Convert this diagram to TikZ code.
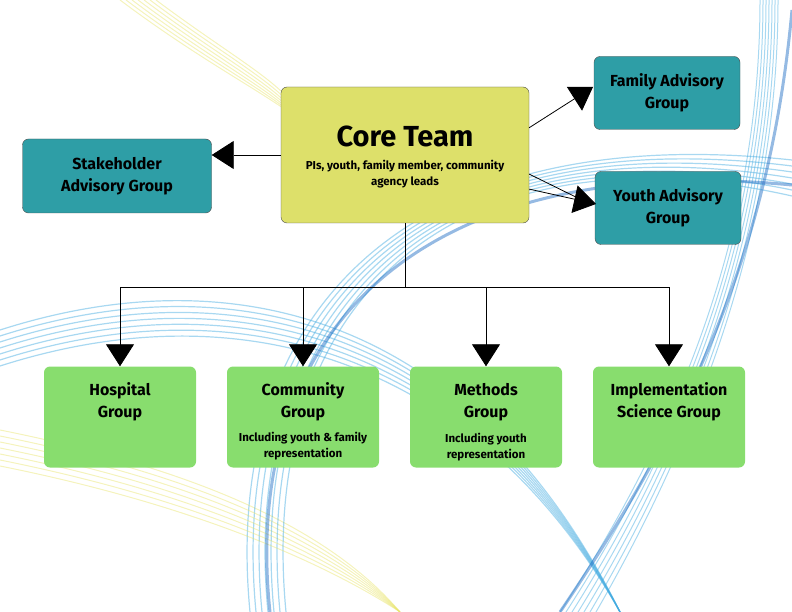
\documentclass[tikz,border=0pt]{standalone}
\usepackage{fontspec}
\setmainfont{Fira Sans}
\usepackage{tikz}
\usetikzlibrary{arrows.meta}
\usetikzlibrary{calc}

\definecolor{coreyellow}{HTML}{DDE06A}
\definecolor{advteal}{HTML}{2E9EA6}
\definecolor{grpgreen}{HTML}{88DD6E}
\definecolor{swirlblue}{HTML}{3FA9DF}
\definecolor{swirldark}{HTML}{1565C0}
\definecolor{swirlyellow}{HTML}{E8E46A}

\tikzset{
    box/.style={draw=black!70, rounded corners=6pt, align=center},
    core/.style={box, fill=coreyellow, minimum width=248pt, minimum height=136pt},
    adv/.style={box, fill=advteal, minimum width=146pt, minimum height=73pt, font=\bfseries\fontsize{16}{22}\selectfont},
    grp/.style={draw=none, rounded corners=6pt, fill=grpgreen, minimum width=152pt, minimum height=101pt},
    title/.style={font=\bfseries\fontsize{16}{22}\selectfont, align=center},
    sub/.style={font=\bfseries\fontsize{11.5}{16}\selectfont, align=center},
    link/.style={-{Triangle[length=22pt,width=28pt]}, thick},
    swirl/.style={line width=#1, opacity=0.45}
}

\begin{document}
\begin{tikzpicture}[x=1pt,y=-1pt]
    \useasboundingbox (0,0) rectangle (792,612);

    % background swirls
    \foreach \d in {0,6,...,36} {
        \draw[swirl=1.2pt, swirlblue] (0,{330+\d}) .. controls (250,{250+\d}) and (480,{330+\d}) .. (620,612);
        \draw[swirl=1.2pt, swirlblue] ({250+\d},612) .. controls ({220+\d},300) and ({420+\d},120) .. (792,{160+\d});
        \draw[swirl=1pt, swirlblue] ({760+\d/2},0) .. controls ({760+\d/2},200) and ({700+\d/2},400) .. ({560+\d},612);
        \draw[swirl=1pt, swirlyellow] (0,{430+\d}) .. controls (200,{470+\d}) and (330,{530+\d}) .. (400,612);
        \draw[swirl=1pt, swirlyellow] ({120+\d},0) .. controls ({200+\d},60) and ({260+\d},90) .. (300,120);
    }
    \draw[swirl=3pt, swirldark] (270,612) .. controls (240,330) and (420,150) .. (792,185);
    \draw[swirl=3pt, swirldark] (792,10) .. controls (770,250) and (690,420) .. (560,612);

    % nodes
    \node[core] (core) at (405,155) {};
    \node[font=\bfseries\fontsize{29}{34}\selectfont] (coretitle) at (405,136) {Core Team};
    \node[sub] (coresub) at (405,174) {PIs, youth, family member, community\\agency leads};

    \node[adv, minimum width=189pt, minimum height=74pt] (stake) at (117,176) {Stakeholder\\Advisory Group};
    \node[adv] (family) at (667,93) {Family Advisory\\Group};
    \node[adv] (youth) at (668,208) {Youth Advisory\\Group};

    \node[grp] (hosp) at (120,417) {};
    \node[grp] (comm) at (303,417) {};
    \node[grp] (meth) at (486,417) {};
    \node[grp] (impl) at (669,417) {};

    \node[title] at (120,402) {Hospital\\Group};
    \node[title] at (303,402) {Community\\Group};
    \node[sub] at (303,446) {Including youth \& family\\representation};
    \node[title] at (486,402) {Methods\\Group};
    \node[sub] at (486,447) {Including youth\\representation};
    \node[title] at (669,402) {Implementation\\Science Group};

    % connectors
    \draw[link] (core.west) -- (stake.east |- core.west);
    \draw[link] ($(core.north east)!0.3!(core.south east)$) -- (593,87);
    \draw[thick] ($(core.north east)!0.64!(core.south east)$) -- (590,204);
    \draw[link] ($(core.north east)!0.75!(core.south east)$) -- (596,204);

    \coordinate (split) at (405,287);
    \draw[thick] (core.south) -- (split);
    \draw[thick] (hosp.north |- split) -- (impl.north |- split);
    \foreach \g in {hosp,comm,meth,impl}
        \draw[link] (\g.north |- split) -- (\g.north);
\end{tikzpicture}
\end{document}
